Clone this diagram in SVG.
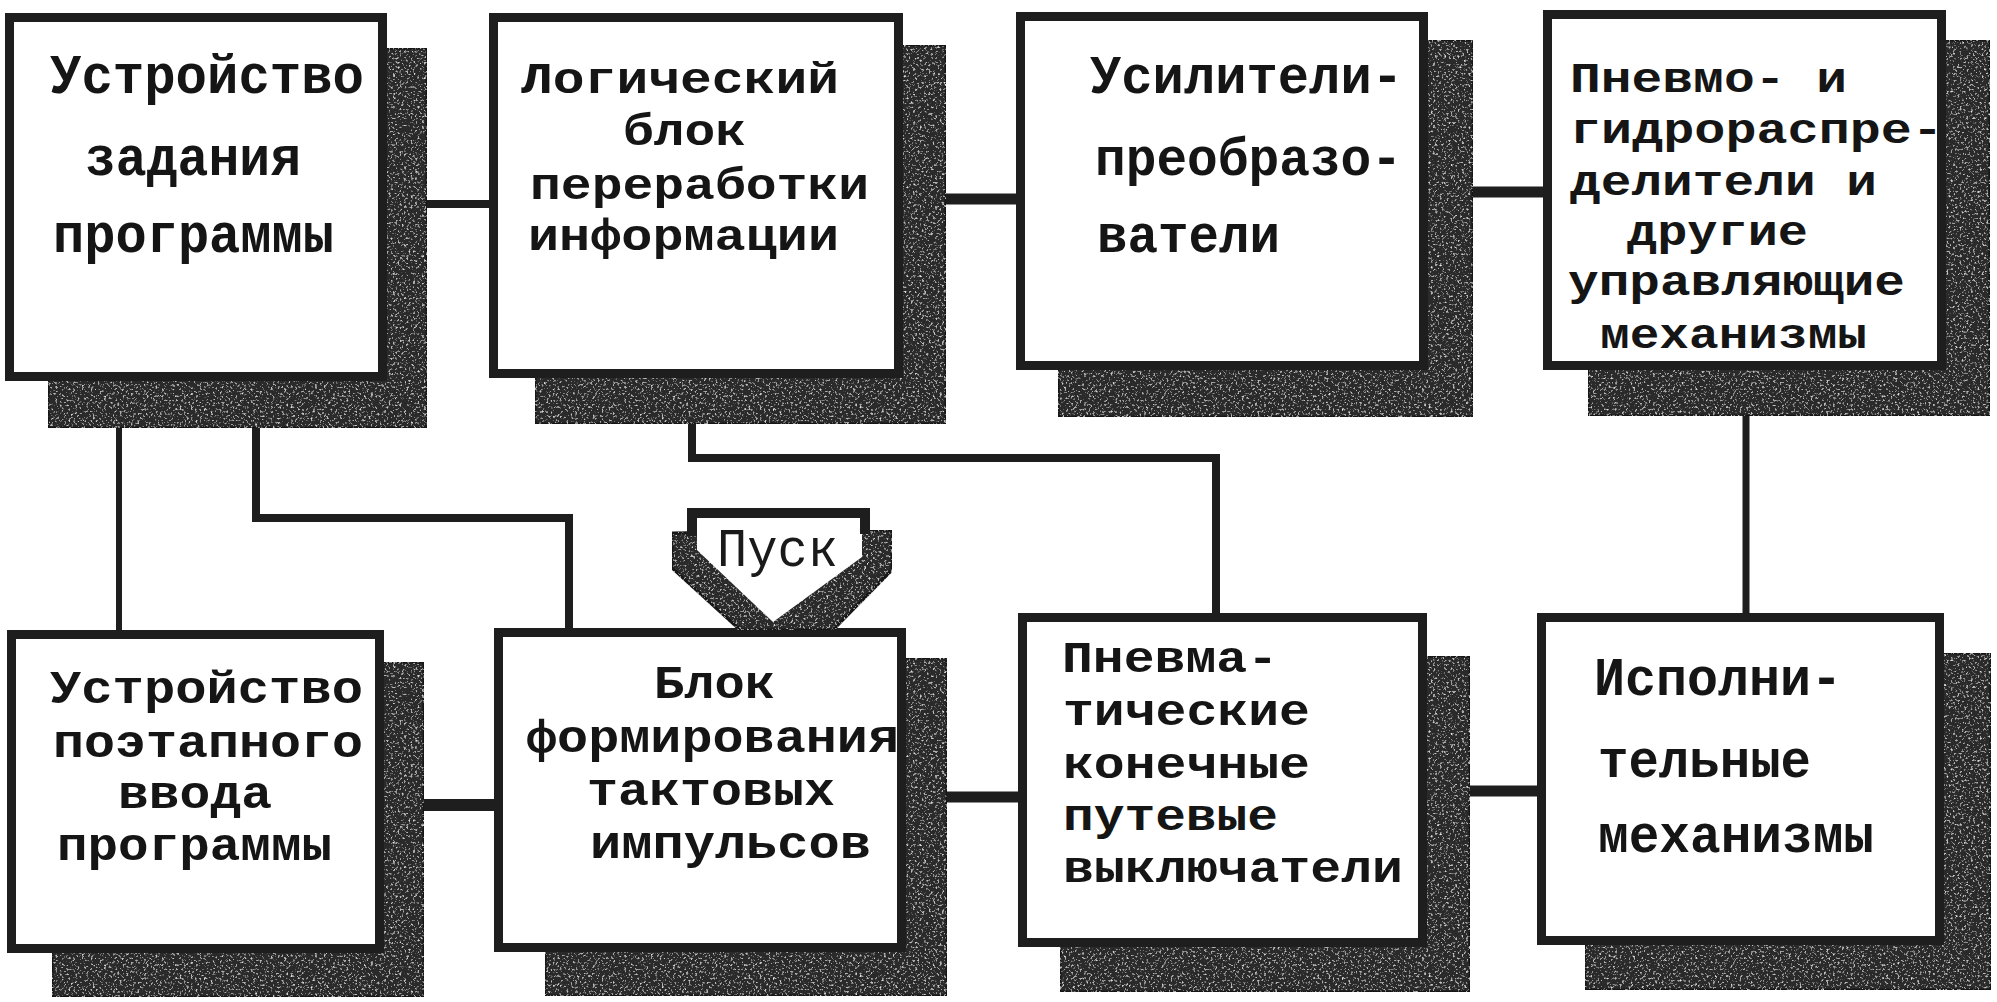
<svg xmlns="http://www.w3.org/2000/svg" width="1997" height="1002" viewBox="0 0 1997 1002">
<defs>
  <filter id="grain" x="0" y="0" width="1" height="1">
    <feTurbulence type="fractalNoise" baseFrequency="0.45" numOctaves="2" seed="7" result="n"/>
    <feColorMatrix in="n" type="matrix" values="0 0 0 0 0.8  0 0 0 0 0.8  0 0 0 0 0.8  3.4 0 0 0 -1.95" result="speck"/>
    <feComposite in="speck" in2="SourceGraphic" operator="in" result="s2"/>
    <feMerge><feMergeNode in="SourceGraphic"/><feMergeNode in="s2"/></feMerge>
  </filter>
  <style>
    .shadow { fill: #2c2c2c; stroke: #161616; stroke-width: 3; filter: url(#grain); }
    .box { fill: #ffffff; stroke: #1e1e1e; stroke-width: 9; }
    .t { font-family: "Liberation Mono", "DejaVu Sans Mono", monospace; font-weight: bold; fill: #151515; }
    .conn { stroke: #1e1e1e; fill: none; stroke-linecap: butt; stroke-linejoin: miter; }
  </style>
</defs>
<rect width="1997" height="1002" fill="#ffffff"/>

<g id="connectors">
  <line class="conn" x1="425" y1="204" x2="492" y2="204" stroke-width="8"/>
  <line class="conn" x1="944" y1="199" x2="1019" y2="199" stroke-width="11"/>
  <line class="conn" x1="1471" y1="192" x2="1546" y2="192" stroke-width="11"/>
  <line class="conn" x1="422" y1="805" x2="497" y2="805" stroke-width="12"/>
  <line class="conn" x1="945" y1="797" x2="1021" y2="797" stroke-width="11"/>
  <line class="conn" x1="1468" y1="791" x2="1540" y2="791" stroke-width="11"/>
  <line class="conn" x1="119" y1="426" x2="119" y2="633" stroke-width="6"/>
  <polyline class="conn" points="256,426 256,518 569,518 569,632" stroke-width="8"/>
  <polyline class="conn" points="692,422 692,458 1216,458 1216,617" stroke-width="8"/>
  <line class="conn" x1="1746" y1="414" x2="1746" y2="617" stroke-width="7"/>
</g>

<g id="node-ustr-zadaniya">
  <rect class="shadow" x="48" y="48" width="379" height="380"/>
  <rect class="box" x="9.5" y="17.5" width="373" height="359"/>
  <text class="t" font-size="56" x="50" y="93" textLength="314" lengthAdjust="spacingAndGlyphs">Устройство</text>
  <text class="t" font-size="56" x="85" y="175" textLength="216" lengthAdjust="spacingAndGlyphs">задания</text>
  <text class="t" font-size="56" x="53" y="252" textLength="281" lengthAdjust="spacingAndGlyphs">программы</text>
</g>

<g id="node-logicheskiy">
  <rect class="shadow" x="535" y="45" width="411" height="379"/>
  <rect class="box" x="493.5" y="17.5" width="405" height="356"/>
  <text class="t" font-size="45" x="521" y="93" textLength="318" lengthAdjust="spacingAndGlyphs">Логический</text>
  <text class="t" font-size="45" x="623" y="145" textLength="123" lengthAdjust="spacingAndGlyphs">блок</text>
  <text class="t" font-size="45" x="530" y="199" textLength="339" lengthAdjust="spacingAndGlyphs">переработки</text>
  <text class="t" font-size="45" x="528" y="250" textLength="311" lengthAdjust="spacingAndGlyphs">информации</text>
</g>

<g id="node-usiliteli">
  <rect class="shadow" x="1058" y="40" width="415" height="377"/>
  <rect class="box" x="1020.5" y="16.5" width="403" height="349"/>
  <text class="t" font-size="54" x="1090" y="93" textLength="313" lengthAdjust="spacingAndGlyphs">Усилители-</text>
  <text class="t" font-size="54" x="1095" y="175" textLength="307" lengthAdjust="spacingAndGlyphs">преобразо-</text>
  <text class="t" font-size="54" x="1097" y="252" textLength="183" lengthAdjust="spacingAndGlyphs">ватели</text>
</g>

<g id="node-raspredeliteli">
  <rect class="shadow" x="1588" y="40" width="402" height="376"/>
  <rect class="box" x="1547.5" y="14.5" width="394" height="351"/>
  <text class="t" font-size="43" x="1570" y="92" textLength="277" lengthAdjust="spacingAndGlyphs">Пневмо- и</text>
  <text class="t" font-size="43" x="1570" y="143" textLength="373" lengthAdjust="spacingAndGlyphs">гидрораспре-</text>
  <text class="t" font-size="43" x="1570" y="195" textLength="307" lengthAdjust="spacingAndGlyphs">делители и</text>
  <text class="t" font-size="43" x="1627" y="245" textLength="181" lengthAdjust="spacingAndGlyphs">другие</text>
  <text class="t" font-size="43" x="1568" y="295" textLength="337" lengthAdjust="spacingAndGlyphs">управляющие</text>
  <text class="t" font-size="43" x="1600" y="348" textLength="267" lengthAdjust="spacingAndGlyphs">механизмы</text>
</g>

<g id="node-poetapnogo">
  <rect class="shadow" x="52" y="662" width="372" height="335"/>
  <rect class="box" x="11.5" y="634.5" width="368" height="314"/>
  <text class="t" font-size="46" x="50" y="703" textLength="313" lengthAdjust="spacingAndGlyphs">Устройство</text>
  <text class="t" font-size="46" x="53" y="757" textLength="310" lengthAdjust="spacingAndGlyphs">поэтапного</text>
  <text class="t" font-size="46" x="118" y="808" textLength="154" lengthAdjust="spacingAndGlyphs">ввода</text>
  <text class="t" font-size="46" x="57" y="860" textLength="275" lengthAdjust="spacingAndGlyphs">программы</text>
</g>

<g id="node-taktovyh">
  <rect class="shadow" x="545" y="658" width="402" height="338"/>
  <rect class="box" x="498.5" y="632.5" width="403" height="315"/>
  <text class="t" font-size="46" x="654" y="698" textLength="121" lengthAdjust="spacingAndGlyphs">Блок</text>
  <text class="t" font-size="46" x="526" y="752" textLength="373" lengthAdjust="spacingAndGlyphs">формирования</text>
  <text class="t" font-size="46" x="587" y="805" textLength="248" lengthAdjust="spacingAndGlyphs">тактовых</text>
  <text class="t" font-size="46" x="590" y="858" textLength="281" lengthAdjust="spacingAndGlyphs">импульсов</text>
</g>

<g id="node-pusk">
  <polygon points="672,533 892,530 892,570 833,630 740,630 672,568" fill="#2c2c2c" stroke="#161616" stroke-width="3" filter="url(#grain)"/>
  <polygon points="697,520 862,520 862,557 773,622 697,550" fill="#ffffff"/>
  <path d="M692,536 V513 H865 V534" fill="none" stroke="#1e1e1e" stroke-width="10"/>
  <text font-family="Liberation Mono, DejaVu Sans Mono, monospace" font-size="54" fill="#1a1a1a" x="717" y="566" textLength="121" lengthAdjust="spacingAndGlyphs">Пуск</text>
</g>

<g id="node-vyklyuchateli">
  <rect class="shadow" x="1060" y="656" width="410" height="336"/>
  <rect class="box" x="1022.5" y="617.5" width="400" height="325"/>
  <text class="t" font-size="45" x="1062" y="672" textLength="216" lengthAdjust="spacingAndGlyphs">Пневма-</text>
  <text class="t" font-size="45" x="1063" y="725" textLength="247" lengthAdjust="spacingAndGlyphs">тические</text>
  <text class="t" font-size="45" x="1063" y="778" textLength="247" lengthAdjust="spacingAndGlyphs">конечные</text>
  <text class="t" font-size="45" x="1063" y="830" textLength="215" lengthAdjust="spacingAndGlyphs">путевые</text>
  <text class="t" font-size="45" x="1063" y="882" textLength="340" lengthAdjust="spacingAndGlyphs">выключатели</text>
</g>

<g id="node-ispolnitelnye">
  <rect class="shadow" x="1585" y="653" width="406" height="337"/>
  <rect class="box" x="1541.5" y="617.5" width="398" height="323"/>
  <text class="t" font-size="54" x="1594" y="695" textLength="248" lengthAdjust="spacingAndGlyphs">Исполни-</text>
  <text class="t" font-size="54" x="1598" y="777" textLength="213" lengthAdjust="spacingAndGlyphs">тельные</text>
  <text class="t" font-size="54" x="1598" y="852" textLength="276" lengthAdjust="spacingAndGlyphs">механизмы</text>
</g>
</svg>
